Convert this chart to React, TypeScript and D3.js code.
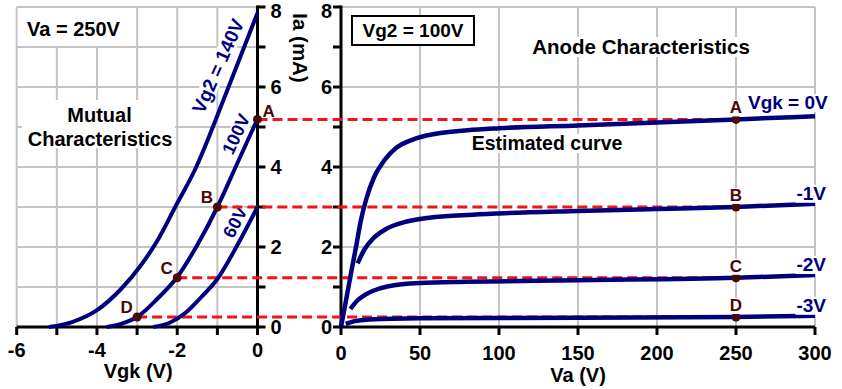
import React, { useEffect, useRef } from 'react';
import * as d3 from 'd3';

// Mutual characteristics (Va = 250V): [Vgk (V), Ia (mA)]
const mutual140 = [[-5.2, 0], [-4.6, 0.13], [-4.0, 0.42], [-3.4, 0.95], [-2.9, 1.55], [-2.5, 2.15], [-2.05, 3.0], [-1.55, 3.95], [-0.78, 5.85], [0, 7.85]];
const mutual100 = [[-3.76, 0], [-3.4, 0.08], [-3.0, 0.25], [-2.5, 0.7], [-2.0, 1.25], [-1.5, 2.05], [-1.0, 3.0], [-0.5, 4.1], [0, 5.2]];
const mutual60 = [[-2.6, 0], [-2.2, 0.1], [-1.8, 0.35], [-1.4, 0.75], [-1.0, 1.2], [-0.5, 2.05], [0, 3.0]];

// Anode characteristics (Vg2 = 100V): [Va (V), Ia (mA)]
const anode0 = [[0, 0], [3.2, 0.67], [6.3, 1.34], [9.5, 2.0], [12.5, 2.65], [16, 3.2], [21, 3.75], [27.5, 4.17], [35, 4.48], [45, 4.68], [60, 4.83], [80, 4.92], [100, 4.97], [150, 5.04], [250, 5.19], [300, 5.27]];
const anodeM1 = [[10.5, 1.59], [15, 1.95], [20, 2.2], [28.5, 2.45], [40, 2.62], [50, 2.7], [80, 2.8], [100, 2.84], [150, 2.9], [200, 2.95], [250, 3.0], [300, 3.08]];
const anodeM2 = [[6, 0.45], [10, 0.65], [15, 0.8], [20, 0.9], [30, 1.02], [50, 1.1], [80, 1.13], [150, 1.17], [250, 1.23], [300, 1.3]];
const anodeM3 = [[3, 0.08], [8, 0.14], [18, 0.19], [50, 0.22], [150, 0.23], [250, 0.25], [300, 0.28]];
const anodeLabels = ['Vgk = 0V', '-1V', '-2V', '-3V'];

// Operating points A-D
const pointNames = ['A', 'B', 'C', 'D'];
const pointVgk = [0, -1, -2, -3];
const pointIa = [5.19, 3.0, 1.23, 0.25];
const pointVa = 250;

// Ticks
const vgkTickLabels = [-6, -4, -2, 0];
const iaTickLabels = [0, 2, 4, 6, 8];
const vaTickLabels = [0, 50, 100, 150, 200, 250, 300];

const FONT = '"Liberation Sans", Arial, Helvetica, sans-serif';
const NAVY = '#00007e';
const RED = '#f01414';
const DOT = '#4a0808';

const App = () => {
  const ref = useRef<SVGSVGElement>(null);

  useEffect(() => {
    const svg = d3.select(ref.current);
    svg.selectAll('*').remove();

    const xL = d3.scaleLinear().domain([-6, 0]).range([16.7, 257.5]);
    const xR = d3.scaleLinear().domain([0, 300]).range([341, 815]);
    const y = d3.scaleLinear().domain([0, 8]).range([327, 7]);

    // grids
    const grid = svg.append('g').attr('stroke', '#c3c3c3').attr('stroke-width', 2);
    d3.range(-6, 0).forEach(v => grid.append('line').attr('x1', xL(v)).attr('x2', xL(v)).attr('y1', y(0)).attr('y2', y(8)));
    d3.range(1, 9).forEach(v => grid.append('line').attr('x1', xL(-6)).attr('x2', xL(0)).attr('y1', y(v)).attr('y2', y(v)));
    d3.range(50, 301, 50).forEach(v => grid.append('line').attr('x1', xR(v)).attr('x2', xR(v)).attr('y1', y(0)).attr('y2', y(8)));
    [2, 4, 6, 8].forEach(v => grid.append('line').attr('x1', xR(0)).attr('x2', xR(300)).attr('y1', y(v)).attr('y2', y(v)));

    // text helper, optional white background behind the text
    const label = (txt, x, yy, opt: any = {}) => {
      const g = svg.append('g').attr('transform', `translate(${x},${yy}) rotate(${opt.rotate || 0})`);
      const rect = g.append('rect').attr('fill', '#fff');
      const t = g.append('text')
        .attr('text-anchor', opt.anchor || 'start')
        .attr('dy', opt.dy || 0)
        .attr('font-size', opt.size || 20)
        .attr('font-weight', 'bold')
        .attr('fill', opt.fill || '#000')
        .text(txt);
      if (opt.bg) {
        const b = (t.node() as SVGTextElement).getBBox();
        rect.attr('x', b.x - 1).attr('y', b.y + 2).attr('width', b.width + 2).attr('height', b.height - 3);
      } else rect.remove();
      return g;
    };

    // white boxes in left panel
    svg.append('rect').attr('x', xL(-6) + 1).attr('y', y(8) + 1).attr('width', xL(-3) - xL(-6) - 2).attr('height', y(7) - y(8) - 2).attr('fill', '#fff');
    svg.append('rect').attr('x', 22).attr('y', 100).attr('width', 153).attr('height', 48).attr('fill', '#fff');
    label('Va = 250V', 27, 36);
    label('Mutual', 99.5, 122, { anchor: 'middle' });
    label('Characteristics', 100, 146, { anchor: 'middle' });

    // right panel texts
    svg.append('rect').attr('x', 352).attr('y', 16).attr('width', 122).attr('height', 29)
      .attr('fill', '#fff').attr('stroke', '#000').attr('stroke-width', 2);
    label('Vg2 = 100V', 413, 37, { anchor: 'middle', size: 19 });
    label('Anode Characteristics', 641, 54, { anchor: 'middle', size: 20.5, bg: true });
    label('Estimated curve', 547, 150, { anchor: 'middle', size: 19.5, bg: true });

    // rotated curve labels (left)
    label('Vg2 = 140V', 218, 66, { anchor: 'middle', dy: '0.35em', rotate: -66, size: 19, fill: NAVY, bg: true });
    label('100V', 236, 134, { anchor: 'middle', dy: '0.35em', rotate: -65, size: 18, fill: NAVY, bg: true });
    label('60V', 235, 222, { anchor: 'middle', dy: '0.35em', rotate: -63, size: 18, fill: NAVY, bg: true });

    // axes
    const axes = svg.append('g').attr('stroke', '#000').attr('stroke-width', 3);
    axes.append('line').attr('x1', xL(-6)).attr('x2', xL(0) + 1.5).attr('y1', y(0)).attr('y2', y(0));
    axes.append('line').attr('x1', xL(0)).attr('x2', xL(0)).attr('y1', y(8) - 1.5).attr('y2', y(0) + 8);
    d3.range(-6, 0).forEach(v => axes.append('line').attr('x1', xL(v)).attr('x2', xL(v)).attr('y1', y(0)).attr('y2', y(0) + 8));
    d3.range(0, 9).forEach(v => axes.append('line').attr('x1', xL(0)).attr('x2', xL(0) + 8).attr('y1', y(v)).attr('y2', y(v)));
    axes.append('line').attr('x1', xR(0) - 1.5).attr('x2', xR(300)).attr('y1', y(0)).attr('y2', y(0));
    axes.append('line').attr('x1', xR(0)).attr('x2', xR(0)).attr('y1', y(8) - 1.5).attr('y2', y(0) + 8);
    d3.range(50, 301, 50).forEach(v => axes.append('line').attr('x1', xR(v)).attr('x2', xR(v)).attr('y1', y(0)).attr('y2', y(0) + 8));
    d3.range(0, 9).forEach(v => axes.append('line').attr('x1', xR(0) - 8).attr('x2', xR(0)).attr('y1', y(v)).attr('y2', y(v)));

    // tick labels
    vgkTickLabels.forEach(v => label(String(v), xL(v), 357, { anchor: 'middle' }));
    vaTickLabels.forEach(v => label(String(v), xR(v), 360, { anchor: 'middle' }));
    iaTickLabels.forEach(v => {
      const ty = y(v) + (v === 8 ? 3.5 : 0);
      label(String(v), xL(0) + 13, ty, { dy: '0.36em' });
      label(String(v), xR(0) - 9, ty, { anchor: 'end', dy: '0.36em' });
    });
    label('Vgk (V)', xL(-3) + 1, 378, { anchor: 'middle' });
    label('Va (V)', xR(150), 382, { anchor: 'middle' });
    label('Ia (mA)', 300, 48, { anchor: 'middle', dy: '0.35em', rotate: 90, size: 20.5 });

    // red dashed construction lines
    pointIa.forEach((ia, i) => {
      svg.append('line')
        .attr('x1', xL(pointVgk[i])).attr('x2', xR(pointVa))
        .attr('y1', y(ia)).attr('y2', y(ia))
        .attr('stroke', RED).attr('stroke-width', 3).attr('stroke-dasharray', '10,5');
    });

    // curves
    const lineL = d3.line<number[]>().x(d => xL(d[0])).y(d => y(d[1])).curve(d3.curveMonotoneX);
    const lineR = d3.line<number[]>().x(d => xR(d[0])).y(d => y(d[1])).curve(d3.curveMonotoneX);
    [mutual140, mutual100, mutual60].forEach(s => {
      svg.append('path').attr('d', lineL(s as any)).attr('fill', 'none').attr('stroke', NAVY).attr('stroke-width', 4);
    });
    [anode0, anodeM1, anodeM2, anodeM3].forEach(s => {
      svg.append('path').attr('d', lineR(s as any)).attr('fill', 'none').attr('stroke', NAVY).attr('stroke-width', 4.5);
    });

    // curve end labels (right)
    label(anodeLabels[0], xR(300) - 67, 109, { size: 19, fill: NAVY, bg: true });
    [anodeM1, anodeM2, anodeM3].forEach((s, i) => {
      const last = s[s.length - 1];
      label(anodeLabels[i + 1], xR(300) + 11, y(last[1]) - 4, { anchor: 'end', size: 19, fill: NAVY, bg: true });
    });

    // operating points
    pointNames.forEach((n, i) => {
      const lx = xL(pointVgk[i]);
      const rx = xR(pointVa);
      const py = y(pointIa[i]);
      svg.append('circle').attr('cx', lx).attr('cy', py).attr('r', 4.5).attr('fill', DOT);
      svg.append('circle').attr('cx', rx).attr('cy', py).attr('r', 4.5).attr('fill', DOT);
      if (i === 0) label(n, lx + 5, py - 2, { size: 17, fill: DOT });
      else label(n, lx - 10.5, py - 4, { anchor: 'middle', size: 17, fill: DOT });
      label(n, rx, py - 6, { anchor: 'middle', size: 17, fill: DOT, bg: true });
    });
  }, []);

  return (
    <svg
      ref={ref}
      width={842}
      height={389}
      fontFamily={FONT}
      style={{ position: 'absolute', left: 0, top: 0, background: '#fff' }}
    />
  );
};

export default App;
